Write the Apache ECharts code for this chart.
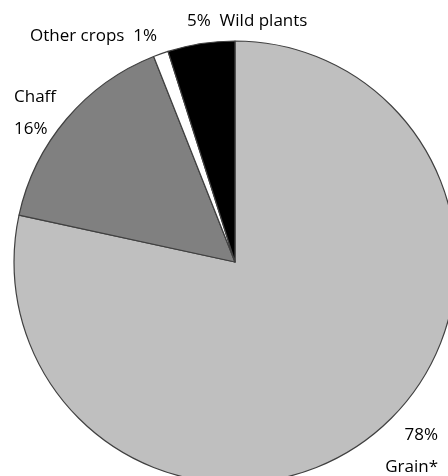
<!DOCTYPE html>
<html><head><meta charset="utf-8">
<script src="https://cdn.jsdelivr.net/npm/echarts@6/dist/echarts.min.js"></script>
<style>html,body{margin:0;padding:0;background:#fff}#c{width:448px;height:476px}</style>
</head><body><div id="c"></div>
<script>
const categories = ['Grain*', 'Chaff', 'Other crops', 'Wild plants'];
const values = [78.4, 15.6, 1.1, 4.9];
const colors = ['#bfbfbf', '#808080', '#ffffff', '#000000'];
const labelPos = [
  {x: 438, y: 451, align: 'right'},
  {x: 14, y: 113, align: 'left'},
  {x: 30, y: 36, align: 'left'},
  {x: 187, y: 21, align: 'left'}
];
const pct = p => Math.round(p.value) + '%';
const fmt = [
  p => pct(p) + '\n' + p.name,
  p => p.name + '\n' + pct(p),
  p => p.name + '  ' + pct(p),
  p => pct(p) + '  ' + p.name
];
const chart = echarts.init(document.getElementById('c'), null, {renderer: 'canvas'});
chart.setOption({
  animation: false,
  series: [{
    type: 'pie',
    center: [235, 262],
    radius: 221,
    startAngle: 90,
    clockwise: true,
    data: categories.map((n, i) => ({name: n, value: values[i], itemStyle: {color: colors[i]}})),
    itemStyle: {borderColor: '#404040', borderWidth: 1.2},
    label: {
      show: true,
      position: 'outside',
      fontFamily: 'Open Sans',
      fontSize: 17,
      color: '#000',
      lineHeight: 32,
      overflow: 'none',
      formatter: p => fmt[p.dataIndex](p)
    },
    labelLine: {show: false},
    labelLayout: p => Object.assign({verticalAlign: 'middle'}, labelPos[p.dataIndex])
  }]
});
</script></body></html>
